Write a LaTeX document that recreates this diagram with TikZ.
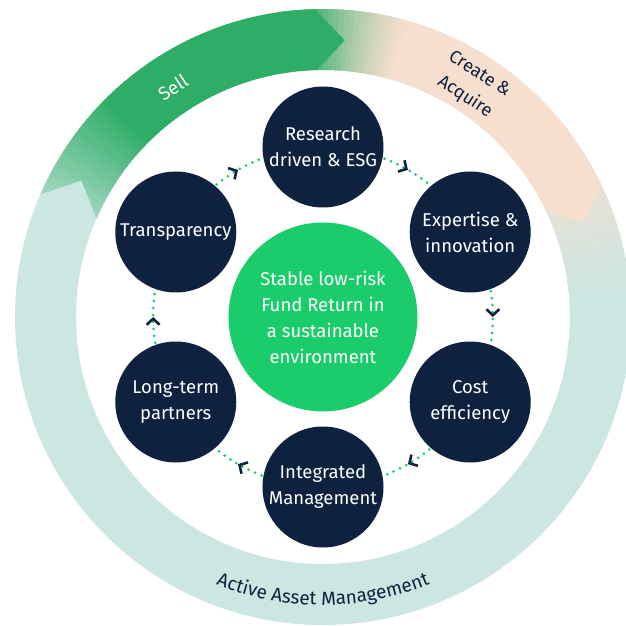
\documentclass[tikz,border=0pt]{standalone}
\usepackage{fontspec}
\setmainfont{Fira Sans}
\usetikzlibrary{arrows.meta}
\usetikzlibrary{decorations.markings}
\usetikzlibrary{decorations.text}
\usetikzlibrary{backgrounds}
\definecolor{navy}{HTML}{0E2240}
\definecolor{fund}{HTML}{1BCC6B}
\definecolor{sell}{HTML}{2EAD66}
\definecolor{asset}{HTML}{CCE6E2}
\definecolor{acquire}{HTML}{F7DFCF}

\begin{document}
\begin{tikzpicture}[
        x=1pt, y=1pt,
        every node/.style={font=\fontsize{18.5}{26}\selectfont},
        value/.style={circle, fill=navy, text=white, minimum size=121pt, inner sep=0pt, align=center},
        goal/.style={circle, fill=fund, text=white, minimum size=189pt, inner sep=0pt, align=center},
        ring label/.style={align=center, text=navy, font=\fontsize{18}{27}\selectfont},
        cycle link/.style={draw=fund, line width=3pt, line cap=round, dash pattern=on 0pt off 7pt, looseness=0.91,
            postaction={decorate},
            decoration={markings, mark=at position 0.5 with {\arrow[navy, line width=2.6pt]{Straight Barb[length=6pt, width=13pt]}}}}
    ]
    \useasboundingbox (-323,-309) rectangle (303,317);
    \fill[asset, even odd rule] (0,0) circle[radius=308] circle[radius=247];
    \begin{scope}
        \clip (-8:308) arc[start angle=-8, end angle=27, radius=308] -- (27:247) arc[start angle=27, end angle=-8, radius=247] -- cycle;
        \foreach[evaluate=\a as \p using {int(70*pow(max(0.01,min(1,\a/25)),1.5))}] \a in {-8,...,26}
            \fill[acquire!\p!asset] (0,0) -- (\a:320) -- ({\a+1.5}:320) -- cycle;
    \end{scope}
    \begin{scope}
        \clip (91.5:308) arc[start angle=91.5, end angle=25.5, radius=308] -- (20:277.5) -- (25.5:247) arc[start angle=25.5, end angle=91.5, radius=247] -- (85.5:277.5) -- cycle;
        \foreach[evaluate=\a as \p using {int(100*pow(max(0.01,min(1,(\a-72)/21)),1.5))}] \a in {18,...,92}
            \fill[sell!\p!acquire] (0,0) -- (\a:320) -- ({\a+1.5}:320) -- cycle;
    \end{scope}
    \begin{scope}
        \clip (156.5:308) arc[start angle=156.5, end angle=91.5, radius=308] -- (85.5:277.5) -- (91.5:247) arc[start angle=91.5, end angle=156.5, radius=247] -- (150.5:277.5) -- cycle;
        \foreach[evaluate=\a as \p using {int(max(20,min(100,100-(\a-134)*3.3)))}] \a in {84,...,157}
            \fill[sell!\p!asset] (0,0) -- (\a:320) -- ({\a+1.5}:320) -- cycle;
    \end{scope}
    \node[text=white, rotate=33.2] (sell label) at (123.2:274) {Sell};
    \node[ring label, rotate=-32.8] (acquire label) at (57.2:275) {Create \&\\Acquire};
    \path[decorate, decoration={text along path, text align=center,
        text={|\fontsize{19}{22}\selectfont\color{navy}|Active Asset Management}}]
        (-135:288) arc[start angle=-135, end angle=-45, radius=288];
    \node[goal] (fund) at (0,0) {Stable low-risk\\Fund Return in\\a sustainable\\environment};
    \node[value] (research) at (90:170) {Research\\driven \& ESG};
    \node[value] (expertise) at (30:170) {Expertise \&\\innovation};
    \node[value] (cost) at (-30:170) {Cost\\efficiency};
    \node[value] (integrated) at (-90:170) {Integrated\\Management};
    \node[value] (partners) at (-150:170) {Long-term\\partners};
    \node[value] (transparency) at (150:170) {Transparency};
    \begin{scope}[on background layer]
        \fill[white] (current bounding box.south west) rectangle (current bounding box.north east);
        \foreach \from/\to in {transparency/research, research/expertise, expertise/cost, cost/integrated, integrated/partners, partners/transparency}
            \draw[cycle link] (\from.center) to[bend left=30] (\to.center);
    \end{scope}
\end{tikzpicture}
\end{document}
